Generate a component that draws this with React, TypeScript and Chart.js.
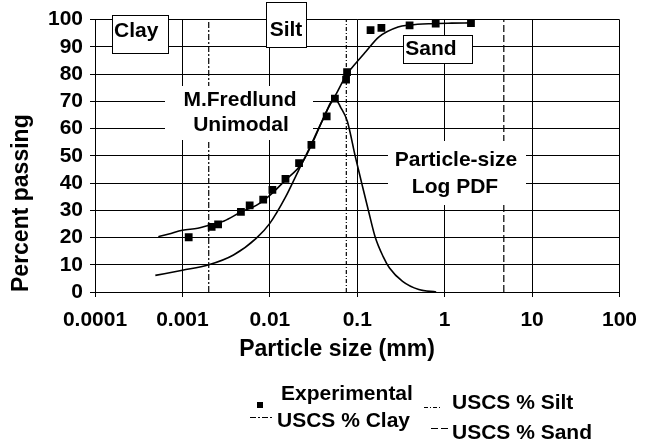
import React, { useEffect, useRef } from 'react';
import { Chart, registerables } from 'chart.js';

Chart.register(...registerables);

// ---- data ----
const X_TICKS = [0.0001, 0.001, 0.01, 0.1, 1, 10, 100];
const X_TICK_LABELS = ['0.0001', '0.001', '0.01', '0.1', '1', '10', '100'];

const EXP_SIZE = [0.00118, 0.00216, 0.00256, 0.00467, 0.00588, 0.0084, 0.0107, 0.0151, 0.0216, 0.0299, 0.0447, 0.0555, 0.0745, 0.0765, 0.142, 0.189, 0.397, 0.79, 2.0];
const EXP_PASS = [20.1, 23.9, 24.8, 29.4, 31.8, 33.9, 37.5, 41.5, 47.3, 54.0, 64.5, 71.0, 78.0, 80.7, 96.1, 97.0, 97.9, 98.5, 98.7];

const FIT_SIZE = [0.00053, 0.0007, 0.001, 0.0015, 0.002, 0.003, 0.0047, 0.007, 0.01, 0.015, 0.023, 0.03, 0.0447, 0.0594, 0.075, 0.1, 0.125, 0.176, 0.293, 0.4, 0.7, 1.2, 2.0];
const FIT_PASS = [20.3, 21.3, 22.7, 23.4, 24.5, 26.1, 29.4, 31.8, 35.5, 41.0, 47.0, 54.0, 66.4, 73.6, 79.6, 84.6, 88.2, 93.6, 97.3, 98.0, 98.5, 98.7, 98.8];

const PDF_SIZE = [0.00049, 0.001, 0.002, 0.00384, 0.00698, 0.01, 0.0151, 0.0212, 0.0299, 0.04, 0.0555, 0.065, 0.077, 0.0955, 0.113, 0.134, 0.16, 0.198, 0.234, 0.33, 0.506, 0.8];
const PDF_VAL = [6.1, 8.0, 10.0, 13.6, 19.7, 25.2, 34.8, 44.5, 54.3, 63.0, 71.0, 67.6, 62.7, 49.4, 39.7, 30.0, 20.3, 13.0, 8.8, 3.9, 0.9, 0.0];

const USCS_NAMES = ['USCS % Silt', 'USCS % Clay', 'USCS % Sand'];
const USCS_LIMITS = [0.075, 0.002, 4.75];
const USCS_RANGE = [0, 100];

// ---- styling ----
const FONT = "'Liberation Sans', Arial, Helvetica, sans-serif";
const USCS_DASH = [[4, 2, 1, 2], [6, 2, 2, 2], [7, 3]];

type Box = { x: number; y: number; w: number; h: number; border: boolean; lines: { t: string; x: number; y: number; align: CanvasTextAlign }[] };
const BOXES: Box[] = [
  { x: 112, y: 15, w: 56, h: 38, border: true, lines: [{ t: 'Clay', x: 114, y: 31, align: 'left' }] },
  { x: 266, y: 2, w: 40, h: 45, border: true, lines: [{ t: 'Silt', x: 286, y: 30, align: 'center' }] },
  { x: 403, y: 35, w: 69, h: 28, border: true, lines: [{ t: 'Sand', x: 431, y: 49, align: 'center' }] },
  { x: 165, y: 86, w: 148, h: 54, border: false, lines: [{ t: 'M.Fredlund', x: 240, y: 100, align: 'center' }, { t: 'Unimodal', x: 241, y: 125, align: 'center' }] },
  { x: 388, y: 141, w: 138, h: 64, border: false, lines: [{ t: 'Particle-size', x: 456, y: 160, align: 'center' }, { t: 'Log PDF', x: 455, y: 187, align: 'center' }] },
];

const overlay = {
  id: 'overlay',
  afterDatasetDraw(chart: any, args: any) {
    if (args.index !== 1) return;
    const ctx: CanvasRenderingContext2D = chart.ctx;
    ctx.save();
    ctx.font = `bold 21px ${FONT}`;
    ctx.textBaseline = 'middle';
    for (const b of BOXES) {
      ctx.fillStyle = '#fff';
      ctx.fillRect(b.x, b.y, b.w, b.h);
      if (b.border) {
        ctx.strokeStyle = '#000';
        ctx.lineWidth = 1;
        ctx.strokeRect(b.x + 0.5, b.y + 0.5, b.w, b.h);
      }
      ctx.fillStyle = '#000';
      for (const l of b.lines) {
        ctx.textAlign = l.align;
        ctx.fillText(l.t, l.x, l.y);
      }
    }
    ctx.restore();
  },
  afterDraw(chart: any) {
    const ctx: CanvasRenderingContext2D = chart.ctx;
    ctx.save();
    ctx.fillStyle = '#000';
    ctx.strokeStyle = '#000';
    ctx.textBaseline = 'middle';
    // x axis title
    ctx.font = `bold 23px ${FONT}`;
    ctx.textAlign = 'center';
    ctx.fillText('Particle size (mm)', 337, 350);
    // legend
    ctx.font = `bold 21px ${FONT}`;
    ctx.textAlign = 'left';
    const ds = chart.data.datasets;
    // Experimental
    ctx.fillRect(257, 402, 6, 6);
    ctx.fillText(ds[0].label, 281, 394);
    const lineItem = (i: number, x0: number, x1: number, ly: number, tx: number, ty: number) => {
      ctx.save();
      ctx.lineWidth = 1;
      ctx.setLineDash(ds[i].borderDash);
      ctx.beginPath();
      ctx.moveTo(x0, ly + 0.5);
      ctx.lineTo(x1, ly + 0.5);
      ctx.stroke();
      ctx.restore();
      ctx.fillText(ds[i].label, tx, ty);
    };
    lineItem(1, 424, 442, 407, 452, 403);
    lineItem(2, 250, 272, 417, 277, 421);
    lineItem(3, 431, 448, 428, 452, 433);
    ctx.restore();
  },
};

export default function App() {
  const ref = useRef<HTMLCanvasElement | null>(null);
  useEffect(() => {
    if (!ref.current) return;
    const tickFont = { family: FONT, size: 21, weight: 'bold' as const };
    const uscs = USCS_NAMES.map((name, i) => ({
      label: name,
      data: USCS_RANGE.map((v) => ({ x: USCS_LIMITS[i], y: v })),
      showLine: true,
      borderColor: '#000',
      borderWidth: 1.2,
      borderDash: USCS_DASH[i],
      pointRadius: 0,
      order: 3,
    }));
    const chart = new Chart(ref.current, {
      type: 'scatter',
      data: {
        datasets: [
          {
            label: 'Experimental',
            data: EXP_SIZE.map((x, i) => ({ x, y: EXP_PASS[i] })),
            pointStyle: 'rect',
            pointRadius: 5.5,
            backgroundColor: '#000',
            borderColor: '#000',
            borderWidth: 0,
            showLine: false,
            order: 0,
          },
          ...uscs,
          {
            label: 'M.Fredlund Unimodal',
            data: FIT_SIZE.map((x, i) => ({ x, y: FIT_PASS[i] })),
            showLine: true,
            borderColor: '#000',
            borderWidth: 1.6,
            pointRadius: 0,
            cubicInterpolationMode: 'monotone',
            order: 1,
          },
          {
            label: 'Particle-size Log PDF',
            data: PDF_SIZE.map((x, i) => ({ x, y: PDF_VAL[i] })),
            showLine: true,
            borderColor: '#000',
            borderWidth: 1.6,
            pointRadius: 0,
            cubicInterpolationMode: 'monotone',
            order: 1,
          },
        ] as any,
      },
      options: {
        responsive: false,
        animation: false,
        devicePixelRatio: 1,
        layout: { padding: { left: 0, right: 17, top: 16, bottom: 112 } },
        plugins: { legend: { display: false }, tooltip: { enabled: false } },
        scales: {
          x: {
            type: 'logarithmic',
            min: 0.0001,
            max: 100,
            afterBuildTicks: (s: any) => {
              s.ticks = X_TICKS.map((v) => ({ value: v }));
            },
            afterFit: (s: any) => {
              s.height = 40;
            },
            ticks: {
              autoSkip: false,
              maxRotation: 0,
              color: '#000',
              font: tickFont,
              padding: 11,
              callback: (_v: any, i: number) => X_TICK_LABELS[i],
            },
            grid: { color: '#000', lineWidth: 1, tickLength: 5 },
            border: { color: '#000', width: 1 },
          },
          y: {
            min: 0,
            max: 100,
            afterFit: (s: any) => {
              s.width = 95;
            },
            ticks: { stepSize: 10, autoSkip: false, color: '#000', font: tickFont, padding: 7 },
            grid: { color: '#000', lineWidth: 1, tickLength: 5 },
            border: { color: '#000', width: 1 },
            title: {
              display: true,
              text: 'Percent passing',
              align: 'start',
              color: '#000',
              font: { family: FONT, size: 23, weight: 'bold' },
              padding: { top: 8, bottom: 0 },
            },
          },
        },
      } as any,
      plugins: [overlay],
    });
    return () => chart.destroy();
  }, []);
  return (
    <div style={{ position: 'absolute', left: 0, top: 0, width: 648, height: 444, background: '#fff' }}>
      <canvas ref={ref} width={648} height={444} style={{ display: 'block', width: 648, height: 444 }} />
    </div>
  );
}
